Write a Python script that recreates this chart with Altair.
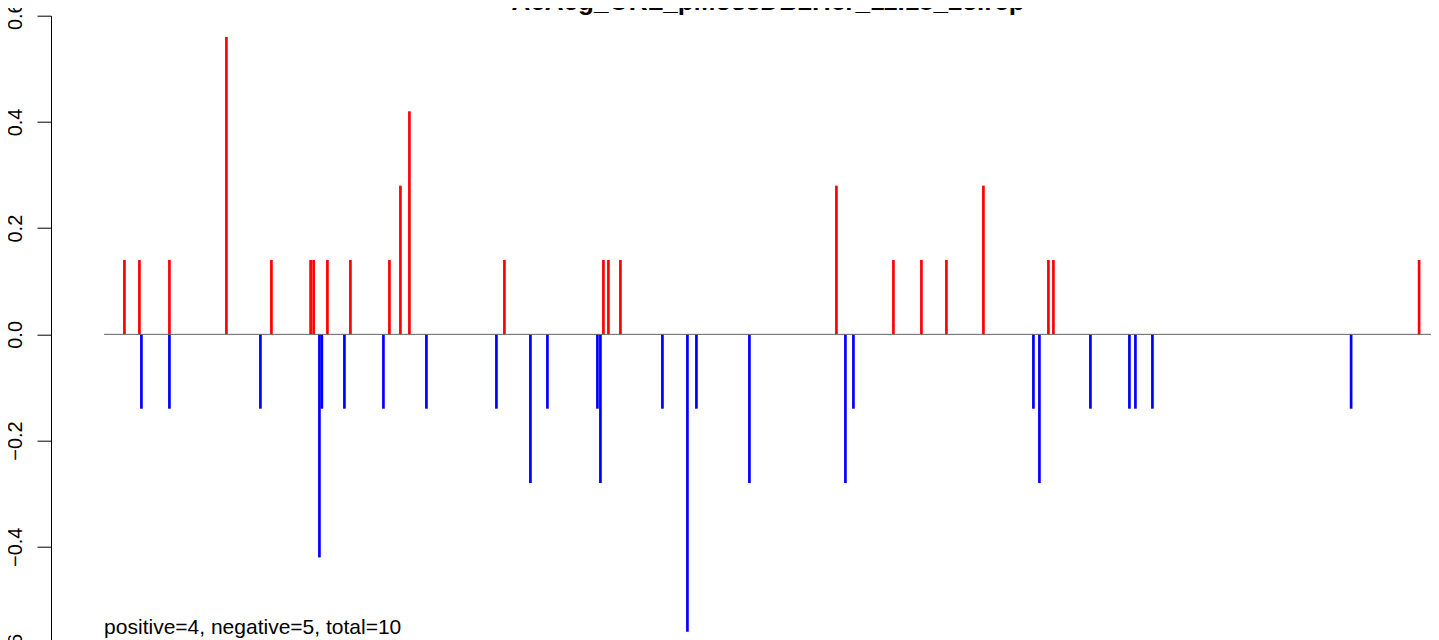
import altair as alt
import pandas as pd

# ---- data ----
seq_len = 1328
pos_x = [20.3, 35.3, 65.3, 122.3, 167.3, 206.5, 209.5, 223.3, 246.3, 285.3, 296.3, 305.3,
         400.3, 499.3, 504.3, 516.3, 732.3, 789.3, 817.3, 842.3, 879.3, 944.3, 949.3, 1315.0]
pos_val = [0.14, 0.14, 0.14, 0.56, 0.14, 0.14, 0.14, 0.14, 0.14, 0.14, 0.28, 0.42,
           0.14, 0.14, 0.14, 0.14, 0.28, 0.14, 0.14, 0.14, 0.28, 0.14, 0.14, 0.14]
neg_x = [37.3, 65.3, 156.3, 215.3, 217.7, 240.3, 279.3, 322.3, 392.3, 426.3, 443.3, 493.3,
         496.3, 558.3, 583.3, 592.3, 645.3, 741.3, 749.3, 929.3, 935.3, 986.3, 1025.3,
         1031.3, 1048.3, 1247.0]
neg_val = [-0.14, -0.14, -0.14, -0.42, -0.14, -0.14, -0.14, -0.14, -0.14, -0.28, -0.14, -0.14,
           -0.28, -0.14, -0.56, -0.14, -0.28, -0.28, -0.14, -0.14, -0.28, -0.14, -0.14,
           -0.14, -0.14, -0.14]
y_ticks = [-0.6, -0.4, -0.2, 0.0, 0.2, 0.4, 0.6]
title_text = "AeAeg_ORL_pMos3DB2Her_11.18_23.rep"
summary_text = "positive=4, negative=5, total=10"
summary_y = -0.564

FONT = "Liberation Sans"
W = 1380
H = 637.3

df = pd.DataFrame({
    "pos": pos_x + neg_x,
    "val": pos_val + neg_val,
    "sign": ["pos"] * len(pos_x) + ["neg"] * len(neg_x),
})
df["zero"] = 0.0

x_scale = alt.Scale(domain=[-0.04 * seq_len, -0.04 * seq_len + W], nice=False, zero=False)
y_scale = alt.Scale(domain=[-0.6, 0.6], nice=False, zero=False)
y_axis = alt.Axis(
    values=y_ticks, format=".1f", title=None, grid=False,
    domainColor="black", domainWidth=1, tickColor="black", tickWidth=1,
    tickSize=14, labelAngle=270, labelAlign="center", labelBaseline="alphabetic",
    labelPadding=15.3, labelFont=FONT, labelFontSize=20, labelColor="black",
    labelOverlap=False, labelFlush=False,
)

bars = alt.Chart(df).mark_rule(strokeWidth=2.7).encode(
    x=alt.X("pos:Q", scale=x_scale, axis=None),
    y=alt.Y("zero:Q", scale=y_scale, axis=y_axis),
    y2="val:Q",
    color=alt.Color("sign:N", scale=alt.Scale(domain=["pos", "neg"], range=["#FF0000", "#0000FF"]),
                    legend=None),
)

zero_line = alt.Chart(pd.DataFrame({"a": [0.0], "b": [float(seq_len)], "y": [0.0]})).mark_rule(
    color="#646464", strokeWidth=1
).encode(
    x=alt.X("a:Q", scale=x_scale, axis=None),
    x2="b:Q",
    y=alt.Y("y:Q", scale=y_scale, axis=y_axis),
)

summary = alt.Chart(pd.DataFrame({"x": [0.0], "y": [summary_y], "t": [summary_text]})).mark_text(
    align="left", baseline="alphabetic", font=FONT, fontSize=21, color="black"
).encode(
    x=alt.X("x:Q", scale=x_scale, axis=None),
    y=alt.Y("y:Q", scale=y_scale, axis=y_axis),
    text="t:N",
)

title = alt.Chart(pd.DataFrame({"x": [seq_len / 2], "t": [title_text]})).mark_text(
    align="center", baseline="alphabetic", font=FONT, fontSize=26, fontWeight="bold", color="black"
).encode(
    x=alt.X("x:Q", scale=x_scale, axis=None),
    y=alt.value(-6.2),
    text="t:N",
)

chart = alt.layer(bars, zero_line, summary, title).properties(
    width=W, height=H,
    autosize="none",
    padding={"left": 43, "top": 7.7, "right": 0, "bottom": 0},
    background="white",
).configure_view(stroke=None)

chart.save("out.html", embed_options={"renderer": "svg", "actions": False})
